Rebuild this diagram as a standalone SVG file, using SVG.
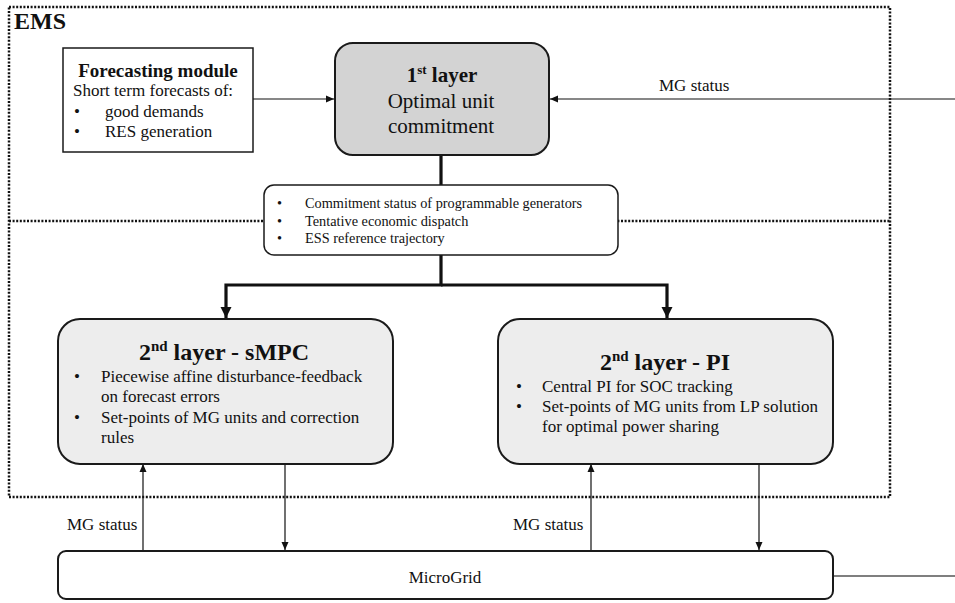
<svg xmlns="http://www.w3.org/2000/svg" width="955" height="603" viewBox="0 0 955 603">
<style>
text { font-family: "Liberation Serif", "Times New Roman", serif; fill: #111; }
.b { font-weight: bold; }
.c { text-anchor: middle; }
.t17 { font-size: 17px; }
.t14 { font-size: 14.3px; }
.dot { fill: none; stroke: #111; stroke-width: 2.5; stroke-dasharray: 2 1.6; }
.box { stroke: #1a1a1a; stroke-width: 2; }
.thin { fill: none; stroke: #111; stroke-width: 1.2; }
.thick { fill: none; stroke: #111; stroke-width: 3.2; }
</style>
<defs>
<marker id="ah" markerUnits="userSpaceOnUse" markerWidth="10" markerHeight="10" refX="8" refY="5" orient="auto">
<path d="M0,1.5 L8,5 L0,8.5 Z" fill="#111"/>
</marker>
<marker id="ahT" markerUnits="userSpaceOnUse" markerWidth="14" markerHeight="14" refX="11" refY="7" orient="auto">
<path d="M0,1.5 L11,7 L0,12.5 Z" fill="#111"/>
</marker>
</defs>

<g id="ems">
<rect class="dot" x="9" y="7" width="881" height="490"/>
<line class="dot" x1="9" y1="221" x2="890" y2="221"/>
<text class="b" x="14" y="29" font-size="24">EMS</text>
</g>

<g id="connectors">
<line class="thin" x1="253" y1="99" x2="334" y2="99" marker-end="url(#ah)"/>
<line class="thin" x1="955" y1="99" x2="550" y2="99" marker-end="url(#ah)"/>
<line class="thick" x1="441" y1="155" x2="441" y2="185"/>
<polyline class="thick" points="441,255 441,285 226,285 226,318" marker-end="url(#ahT)"/>
<polyline class="thick" points="441,285 667,285 667,318" marker-end="url(#ahT)"/>
<line class="thin" x1="143" y1="551" x2="143" y2="464" marker-end="url(#ah)"/>
<line class="thin" x1="285" y1="464" x2="285" y2="550" marker-end="url(#ah)"/>
<line class="thin" x1="591" y1="551" x2="591" y2="464" marker-end="url(#ah)"/>
<line class="thin" x1="759" y1="464" x2="759" y2="550" marker-end="url(#ah)"/>
<line x1="834" y1="576" x2="955" y2="576" stroke="#555" stroke-width="1.5"/>
<text class="t17" x="659" y="91">MG status</text>
<text class="t17" x="67" y="530">MG status</text>
<text class="t17" x="513" y="530">MG status</text>
</g>

<g id="forecasting">
<rect x="63" y="48" width="190" height="104" fill="#fff" stroke="#1a1a1a" stroke-width="1.5"/>
<text class="b c" x="158" y="77" font-size="19">Forecasting module</text>
<text class="t17" x="73" y="96">Short term forecasts of:</text>
<text class="t17" x="74" y="117">•</text>
<text class="t17" x="105" y="117">good demands</text>
<text class="t17" x="74" y="137">•</text>
<text class="t17" x="105" y="137">RES generation</text>
</g>

<g id="layer1">
<rect class="box" x="335" y="43" width="214" height="112" rx="18" fill="#d3d3d3"/>
<text class="b c" x="442" y="82" font-size="21">1<tspan font-size="13" dy="-8">st</tspan><tspan dy="8"> layer</tspan></text>
<text class="c" x="441" y="108" font-size="21">Optimal unit</text>
<text class="c" x="441" y="133" font-size="21">commitment</text>
</g>

<g id="info">
<rect x="264" y="185" width="354" height="70" rx="10" fill="#fff" stroke="#1a1a1a" stroke-width="1.5"/>
<text class="t14" x="277" y="208">•</text>
<text class="t14" x="305" y="208">Commitment status of programmable generators</text>
<text class="t14" x="277" y="226">•</text>
<text class="t14" x="305" y="226">Tentative economic dispatch</text>
<text class="t14" x="277" y="243">•</text>
<text class="t14" x="305" y="243">ESS reference trajectory</text>
</g>

<g id="smpc">
<rect class="box" x="58" y="319" width="335" height="145" rx="22" fill="#ededed"/>
<text class="b c" x="224" y="360" font-size="24">2<tspan font-size="15" dy="-9">nd</tspan><tspan dy="9"> layer - sMPC</tspan></text>
<text class="t17" x="74" y="382">•</text>
<text class="t17" x="101" y="382">Piecewise affine disturbance-feedback</text>
<text class="t17" x="101" y="402">on forecast errors</text>
<text class="t17" x="74" y="423">•</text>
<text class="t17" x="101" y="423">Set-points of MG units and correction</text>
<text class="t17" x="101" y="443">rules</text>
</g>

<g id="pi">
<rect class="box" x="498" y="319" width="335" height="145" rx="22" fill="#ededed"/>
<text class="b c" x="665" y="370" font-size="24">2<tspan font-size="15" dy="-9">nd</tspan><tspan dy="9"> layer - PI</tspan></text>
<text class="t17" x="516" y="392">•</text>
<text class="t17" x="542" y="392">Central PI for SOC tracking</text>
<text class="t17" x="516" y="412">•</text>
<text class="t17" x="542" y="412">Set-points of MG units from LP solution</text>
<text class="t17" x="542" y="432">for optimal power sharing</text>
</g>

<g id="microgrid">
<rect class="box" x="58" y="551" width="775" height="48" rx="8" fill="#fff"/>
<text class="t17 c" x="445" y="583">MicroGrid</text>
</g>
</svg>
